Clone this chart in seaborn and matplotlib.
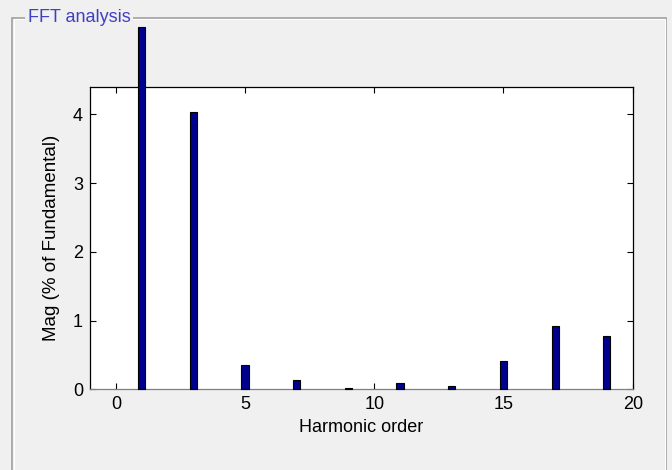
import matplotlib
matplotlib.use("Agg")
import matplotlib.pyplot as plt
import seaborn as sns
import pandas as pd
from matplotlib.patches import Rectangle

# odd harmonics only (% of fundamental)
harmonic_order = [1, 3, 5, 7, 9, 11, 13, 15, 17, 19]
magnitude = [5.27, 4.04, 0.35, 0.135, 0.015, 0.088, 0.058, 0.41, 0.925, 0.775]

x_ticks = [0, 5, 10, 15, 20]
y_ticks = [0, 1, 2, 3, 4]

sns.set_style("ticks", {'text.color': 'black', 'axes.labelcolor': 'black',
                        'xtick.color': 'black', 'ytick.color': 'black'})
plt.rcParams['font.family'] = ['Liberation Sans', 'DejaVu Sans']

panel_grey = '#f0f0f0'
bar_blue = '#00008f'

fig = plt.figure(figsize=(6.72, 4.70), dpi=100, facecolor=panel_grey)
ax = fig.add_axes([0.1339, 0.1713, 0.8076, 0.6436])
ax.set_facecolor('white')

df = pd.DataFrame({'order': harmonic_order, 'mag': magnitude})
sns.barplot(data=df, x='order', y='mag', native_scale=True, width=0.14,
            color=bar_blue, saturation=1, edgecolor='black', linewidth=0.8,
            errorbar=None, ax=ax)
# the fundamental goes past the top of the axes, as in the MATLAB window
for p in ax.patches:
    p.set_clip_on(False)
    p.set_zorder(3)

ax.set_xlim(-1, 20)
ax.set_ylim(0, 4.4)
ax.set_xticks(x_ticks)
ax.set_yticks(y_ticks)
ax.tick_params(direction='in', top=True, right=True, length=4, width=0.8,
               labelsize=13, pad=5, colors='black')
for s in ax.spines.values():
    s.set_color('black')
    s.set_linewidth(0.9)
ax.spines['bottom'].set_color('#808080')

ax.set_xlabel('Harmonic order', fontsize=13, labelpad=4, color='black')
ax.set_ylabel('Mag (% of Fundamental)', fontsize=13.5, labelpad=9,
              color='black')

# etched panel border
W, H = 672, 470
fig.add_artist(Rectangle((12.3 / W, -0.1), (666 - 12.3) / W, 1.1 - 18 / H,
                         transform=fig.transFigure, fill=False,
                         edgecolor='#a0a0a0', linewidth=1.2))
fig.add_artist(Rectangle((13.5 / W, -0.1), (664.8 - 13.5) / W, 1.1 - 19.3 / H,
                         transform=fig.transFigure, fill=False,
                         edgecolor='white', linewidth=0.8))
fig.text(28 / W, 1 - 17 / H, 'FFT analysis', fontsize=13, color='#4040c0',
         ha='left', va='center',
         bbox=dict(facecolor=panel_grey, edgecolor='none', pad=2))

fig.savefig('out.png', dpi=100, facecolor=panel_grey)
